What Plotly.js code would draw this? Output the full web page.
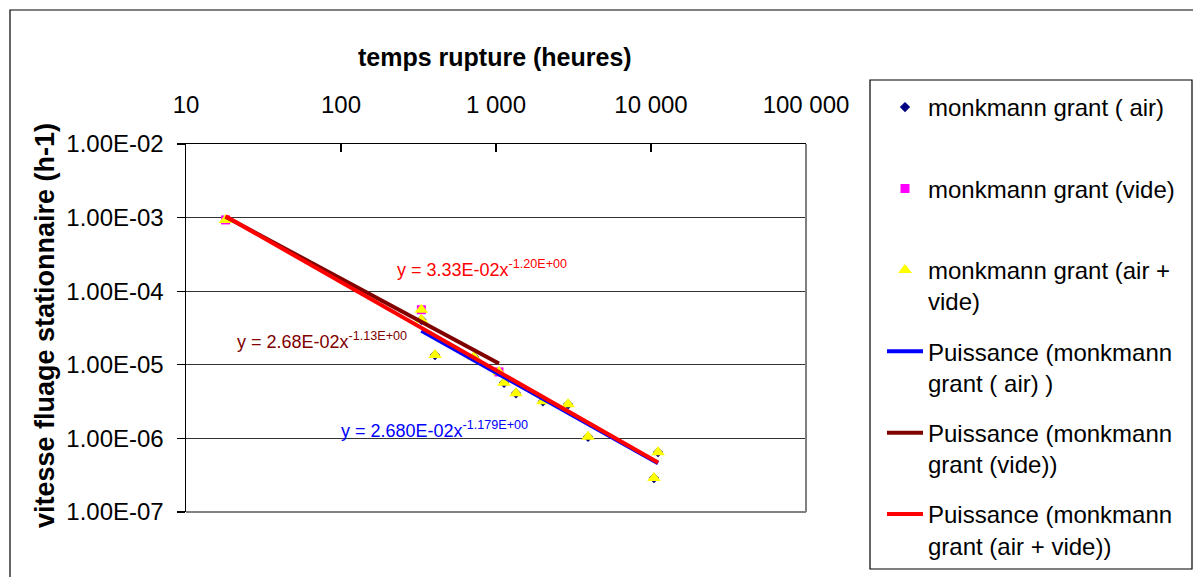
<!DOCTYPE html>
<html>
<head>
<meta charset="utf-8">
<script src="https://cdn.plot.ly/plotly-3.0.1.min.js"></script>
<style>html,body{margin:0;padding:0;background:#fff;}#chart{width:1193px;height:577px;}</style>
</head>
<body>
<div id="chart"></div>
<script>
// ---- data ----
var timeAir = [330, 404, 721, 1127, 1346, 2009, 2917, 3926, 10450, 11100];
var rateAir = [4.1e-5, 1.36e-5, 1.28e-5, 5.7e-6, 4.1e-6, 3.2e-6, 2.9e-6, 1.05e-6, 2.9e-7, 6.5e-7];
var timeVide = [18, 330, 1045];
var rateVide = [9.3e-4, 5.6e-5, 8.0e-6];
var timeAll = [18, 330, 330, 404, 721, 1045, 1127, 1346, 2009, 2917, 3926, 10450, 11100];
var rateAll = [9.3e-4, 5.6e-5, 4.1e-5, 1.36e-5, 1.28e-5, 8.0e-6, 5.7e-6, 4.1e-6, 3.2e-6, 2.9e-6, 1.05e-6, 2.9e-7, 6.5e-7];
// trendline end points (power fits shown on chart)
var fitAirX = [330, 11100];
var fitAirY = [2.9e-5, 4.6e-7];
var fitVideX = [18, 1045];
var fitVideY = [1.03e-3, 1.04e-5];
var fitAllX = [18, 11100];
var fitAllY = [1.04e-3, 4.7e-7];

var xTickVals = [10, 100, 1000, 10000, 100000];
var xTickText = ['10', '100', '1 000', '10 000', '100 000'];
var yTickVals = [1e-7, 1e-6, 1e-5, 1e-4, 1e-3, 1e-2];
var yTickText = ['1.00E-07', '1.00E-06', '1.00E-05', '1.00E-04', '1.00E-03', '1.00E-02'];

var names = [
  'monkmann grant ( air)<br>&nbsp;',
  'monkmann grant (vide)<br>&nbsp;',
  'monkmann grant (air +<br>vide)',
  'Puissance (monkmann<br>grant ( air) )',
  'Puissance (monkmann<br>grant (vide))',
  'Puissance (monkmann<br>grant (air + vide))'
];
var eqTexts = [
  'y = 3.33E-02x<sup>-1.20E+00</sup>',
  'y = 2.68E-02x<sup>-1.13E+00</sup>',
  'y = 2.680E-02x<sup>-1.179E+00</sup>'
];

// ---- geometry helpers (pixel -> paper) ----
var W = 1193, H = 577;
var L = 186, R = 806, T = 144, B = 512;
function px(x) { return (x - L) / (R - L); }
function py(y) { return (B - y) / (B - T); }

var FONT = 'Liberation Sans, Arial, sans-serif';

var traces = [
  {x: timeAir, y: rateAir, mode: 'markers', type: 'scatter', name: names[0], legendgroup: 'g1',
   marker: {symbol: 'diamond', size: 8, color: '#000080'}},
  {x: timeVide, y: rateVide, mode: 'markers', type: 'scatter', name: names[1], legendgroup: 'g2',
   marker: {symbol: 'square', size: 9, color: '#FF00FF'}},
  {x: timeAll, y: rateAll, mode: 'markers', type: 'scatter', name: names[2], legendgroup: 'g3',
   marker: {symbol: 'triangle-up', size: 12, color: '#FFFF00'}},
  {x: fitAirX, y: fitAirY, mode: 'lines', type: 'scatter', name: names[3], legendgroup: 'g4',
   line: {color: '#0000FF', width: 4}},
  {x: fitVideX, y: fitVideY, mode: 'lines', type: 'scatter', name: names[4], legendgroup: 'g5',
   line: {color: '#800000', width: 4}},
  {x: fitAllX, y: fitAllY, mode: 'lines', type: 'scatter', name: names[5], legendgroup: 'g6',
   line: {color: '#FF0000', width: 4}}
];

var layout = {
  width: W, height: H,
  margin: {l: L, r: W - R, t: T, b: H - B, autoexpand: false},
  paper_bgcolor: '#ffffff', plot_bgcolor: '#ffffff',
  font: {family: FONT, size: 24, color: '#000000'},
  showlegend: true,
  xaxis: {
    type: 'log', range: [1, 5], side: 'top',
    tickmode: 'array', tickvals: xTickVals, ticktext: xTickText,
    ticks: 'inside', ticklen: 8, tickwidth: 1.5, tickcolor: '#000000',
    ticklabelstandoff: 20,
    showline: true, linecolor: '#000000', linewidth: 1.5,
    showgrid: false, zeroline: false, automargin: false,
    tickfont: {family: FONT, size: 24, color: '#000000'}
  },
  yaxis: {
    type: 'log', range: [-7, -2],
    tickmode: 'array', tickvals: yTickVals, ticktext: yTickText,
    ticks: 'outside', ticklen: 8, tickwidth: 1.2, tickcolor: '#000000',
    ticklabelstandoff: 8,
    showline: true, linecolor: '#000000', linewidth: 1.5,
    showgrid: true, gridcolor: '#333333', gridwidth: 1,
    zeroline: false, automargin: false,
    tickfont: {family: FONT, size: 24, color: '#000000'}
  },
  legend: {
    x: px(882), y: py(85), xanchor: 'left', yanchor: 'top',
    bgcolor: 'rgba(0,0,0,0)', borderwidth: 0,
    font: {family: FONT, size: 24, color: '#000000'},
    itemwidth: 36, valign: 'top', traceorder: 'grouped', tracegroupgap: 16,
    maxheight: 700
  },
  shapes: [
    // outer chart border
    {type: 'rect', xref: 'paper', yref: 'paper', x0: px(10), x1: px(1205), y0: py(600), y1: py(10),
     line: {color: '#000000', width: 1.2}, layer: 'below'},
    // legend box
    {type: 'rect', xref: 'paper', yref: 'paper', x0: px(870), x1: px(1192), y0: py(569), y1: py(80),
     line: {color: '#000000', width: 1.2}, layer: 'below'},
    // plot frame right & bottom (gray)
    {type: 'line', xref: 'paper', yref: 'paper', x0: 1, x1: 1, y0: 0, y1: 1,
     line: {color: '#808080', width: 2}, layer: 'above'},
    {type: 'line', xref: 'paper', yref: 'paper', x0: 0, x1: 1, y0: 0, y1: 0,
     line: {color: '#808080', width: 2}, layer: 'above'}
  ],
  annotations: [
    {text: '<b>temps rupture (heures)</b>', xref: 'paper', yref: 'paper', x: px(495), y: py(57),
     xanchor: 'center', yanchor: 'middle', showarrow: false, font: {family: FONT, size: 25, color: '#000000'}},
    {text: '<b>vitesse fluage stationnaire (h-1)</b>', xref: 'paper', yref: 'paper', x: px(45), y: py(326),
     xanchor: 'center', yanchor: 'middle', textangle: -90, showarrow: false, font: {family: FONT, size: 27, color: '#000000'}},
    {text: eqTexts[0], xref: 'paper', yref: 'paper', x: px(395), y: py(268),
     xanchor: 'left', yanchor: 'middle', showarrow: false, font: {family: FONT, size: 18, color: '#FF0000'}},
    {text: eqTexts[1], xref: 'paper', yref: 'paper', x: px(235), y: py(340),
     xanchor: 'left', yanchor: 'middle', showarrow: false, font: {family: FONT, size: 18, color: '#800000'}},
    {text: eqTexts[2], xref: 'paper', yref: 'paper', x: px(339), y: py(429),
     xanchor: 'left', yanchor: 'middle', showarrow: false, font: {family: FONT, size: 18, color: '#0000FF'}}
  ]
};

Plotly.newPlot('chart', traces, layout, {displayModeBar: false, staticPlot: true});
</script>
</body>
</html>
